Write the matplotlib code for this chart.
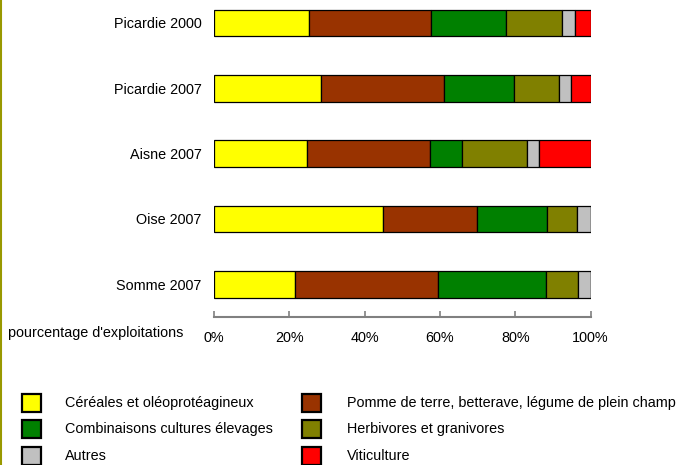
import matplotlib.pyplot as plt
from matplotlib.patches import Rectangle
from matplotlib.lines import Line2D
from matplotlib.ticker import PercentFormatter

plt.rcParams['font.family'] = ['Liberation Sans', 'DejaVu Sans']

zones = ['Picardie 2000', 'Picardie 2007', 'Aisne 2007', 'Oise 2007', 'Somme 2007']
categories = ['Céréales et oléoprotéagineux',
              'Pomme de terre, betterave, légume de plein champ',
              'Combinaisons cultures élevages',
              'Herbivores et granivores',
              'Autres',
              'Viticulture']
colors = ['#FFFF00', '#993300', '#008000', '#808000', '#C0C0C0', '#FF0000']

cereales = [25.3, 28.3, 24.6, 44.9, 21.6]
pomme = [32.4, 32.9, 32.8, 24.9, 37.9]
combinaisons = [19.9, 18.5, 8.4, 18.7, 28.7]
herbivores = [14.9, 11.9, 17.4, 7.8, 8.4]
autres = [3.4, 3.1, 3.1, 3.7, 3.4]
viticulture = [4.1, 5.3, 13.7, 0.0, 0.0]
series = [cereales, pomme, combinaisons, herbivores, autres, viticulture]

fs = 10.4

fig = plt.figure(figsize=(6.78, 4.65), dpi=100)
ax = fig.add_axes([214 / 678, (465 - 317) / 465, 376.6 / 678, 317 / 465])

y = list(range(len(zones)))
left = [0.0] * len(zones)
for vals, col in zip(series, colors):
    ax.barh(y, vals, left=left, height=0.41, color=col, edgecolor='black', linewidth=0.9)
    left = [l + v for l, v in zip(left, vals)]

ax.set_xlim(0, 100)
ax.set_ylim(4.5, -0.352)
ax.set_yticks(y)
ax.set_yticklabels(zones)
ax.set_xticks([0, 20, 40, 60, 80, 100])
ax.xaxis.set_major_formatter(PercentFormatter(decimals=0))
ax.tick_params(axis='y', length=0, pad=9, labelsize=fs)
ax.tick_params(axis='x', direction='in', length=4, color='#808080', width=1.2, pad=10, labelsize=fs)
for s in ['top', 'right', 'left']:
    ax.spines[s].set_visible(False)
ax.spines['bottom'].set_color('#808080')
ax.spines['bottom'].set_linewidth(1.5)

fig.text(8 / 678, 1 - 333 / 465, "pourcentage d'exploitations", fontsize=fs, va='center', ha='left')

# legend
rows = [402.5, 428.5, 455.5]
for i, (lab, col) in enumerate(zip(categories, colors)):
    r, c = i // 2, i % 2
    sx = [22, 302][c]
    tx = [65, 347][c]
    cy = rows[r]
    fig.add_artist(Rectangle((sx / 678, 1 - (cy + 9) / 465), 19 / 678, 18 / 465,
                             facecolor=col, edgecolor='black', linewidth=1.6,
                             transform=fig.transFigure))
    fig.text(tx / 678, 1 - cy / 465, lab, fontsize=fs, va='center', ha='left')

fig.add_artist(Line2D([1 / 678, 1 / 678], [0, 1], color='#999900', linewidth=1.5,
                      transform=fig.transFigure))

fig.savefig('out.png', dpi=100)
